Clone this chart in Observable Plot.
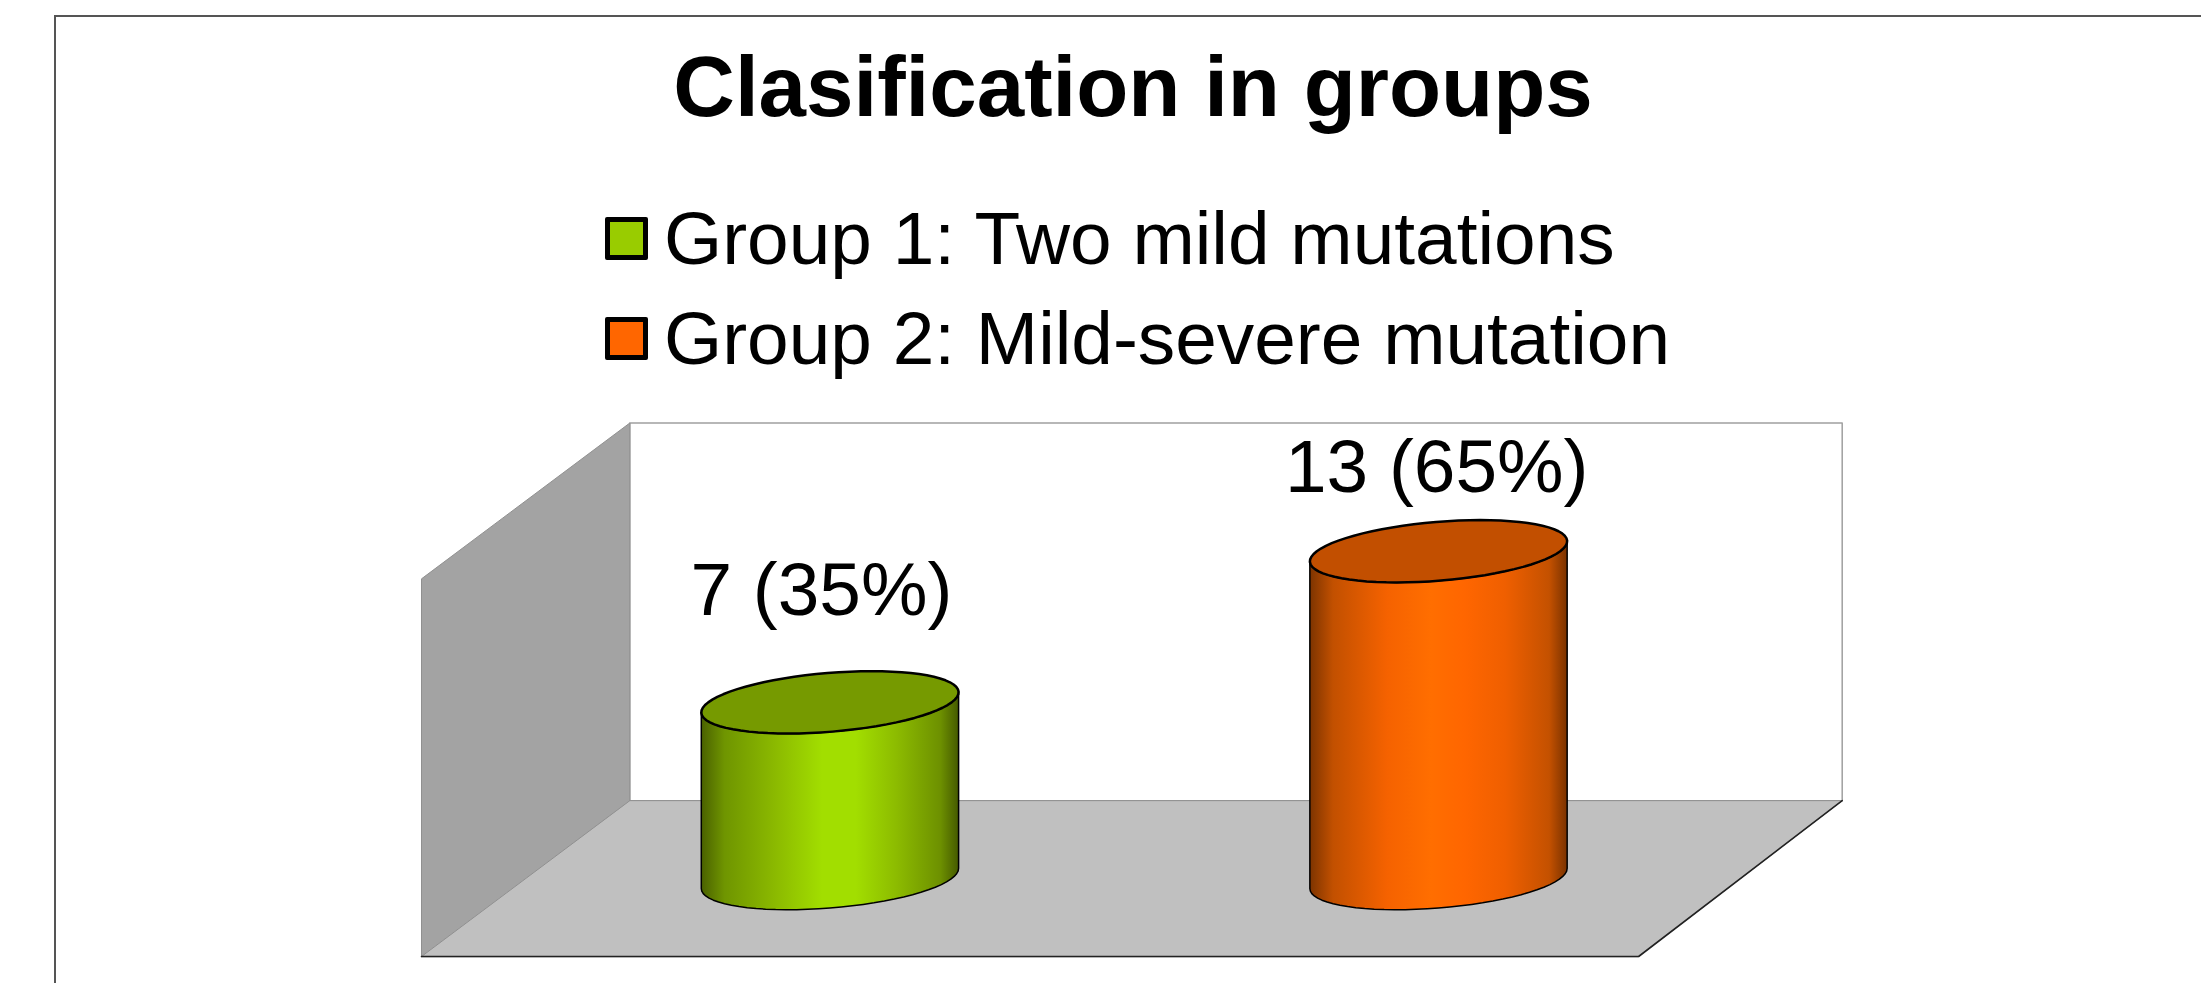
<!DOCTYPE html>
<html>
<head>
<meta charset="utf-8">
<script src="https://cdn.jsdelivr.net/npm/d3@7"></script>
<script src="https://cdn.jsdelivr.net/npm/@observablehq/plot@0.6"></script>
<style>
  html, body { margin: 0; padding: 0; background: #fff; overflow: hidden; }
  body { width: 2201px; height: 983px; position: relative; font-family: "Liberation Sans", Arial, sans-serif; color: #000; }
  #frame { position: absolute; left: 54px; top: 15px; right: -10px; bottom: -10px; border: 2px solid #555; }
  #title { position: relative; margin: 0; height: 188px; box-sizing: border-box; padding-top: 38px; text-align: center; padding-left: 65px;
           font-size: 85.3px; line-height: 98px; font-weight: bold; }
  #legend { position: relative; height: 212px; margin-left: 605px; }
  .row { display: flex; align-items: center; height: 100px; font-size: 74.8px; white-space: nowrap; }
  .swatch { width: 33px; height: 33px; border: 5px solid #000; border-radius: 2px; margin-right: 16px; flex: none; }
  #chart { position: relative; }
  #chart svg { display: block; }
</style>
</head>
<body>
<div id="frame"></div>
<h1 id="title"></h1>
<div id="legend"></div>
<div id="chart"></div>
<script>
// ---- data ----
const chartTitle = "Clasification in groups";
const groups = ["Group 1: Two mild mutations", "Group 2: Mild-severe mutation"];
const counts = [7, 13];
const percents = [35, 65];
const legendColors = ["#99cc00", "#ff6600"];
const labels = counts.map((c, i) => `${c} (${percents[i]}%)`);

// ---- 3D chart box, in data units ----
const valueMax = 15;               // height of walls
const bandCount = groups.length;   // floor width in category bands
const depthX = 0.3423, depthY = 6.19;   // oblique shift of full depth
const backNarrowing = 0.0078;           // the back edge is slightly shorter than the front edge
const radiusX = 0.2, radiusD = 0.2;     // cylinder radius
const project = (b, v, d) => ({x: b + d * depthX, y: v + d * depthY});
const closed = {curve: "linear-closed", x: "x", y: "y"};

const backEnd = bandCount - backNarrowing;
const backWall = [project(0,0,1), project(0,valueMax,1), project(backEnd,valueMax,1), project(backEnd,0,1)];
const sideWall = [project(0,0,0), project(0,valueMax,0), project(0,valueMax,1), project(0,0,1)];
const floor = [project(0,0,0), project(0,0,1), project(backEnd,0,1), project(bandCount,0,0)];
const floorFront = [project(0,0,0), project(bandCount,0,0), project(backEnd,0,1)];

const circlePoint = (band, v, t) => project(band + radiusX * Math.cos(t), v, 0.5 + radiusD * Math.sin(t));
const t0 = Math.atan2(depthX * radiusD, radiusX);   // angle of the silhouette's right edge
const angles = d3.range(0, 73).map(i => i * Math.PI / 36);
const frontAngles = d3.range(0, 37).map(i => t0 - i * Math.PI / 36);

const bodies = counts.map((v, i) => {
  const band = i + 0.5;
  return [
    ...frontAngles.map(t => circlePoint(band, 0, t)),
    ...frontAngles.slice().reverse().map(t => circlePoint(band, v, t))
  ];
});
const tops = counts.map((v, i) => angles.map(t => circlePoint(i + 0.5, v, t)));

// hand-placed label nudges, in data units
const labelShiftX = [-0.014, -0.003];
const labelShiftV = [2.23, 1.12];
const labelData = counts.map((v, i) => {
  const p = project(i + 0.5 + labelShiftX[i], v + radiusD * depthY + labelShiftV[i], 0.5);
  return {...p, label: labels[i]};
});

// ---- html title + legend ----
document.getElementById("title").textContent = chartTitle;
const legend = document.getElementById("legend");
groups.forEach((g, i) => {
  const row = document.createElement("div"); row.className = "row";
  const sw = document.createElement("span"); sw.className = "swatch"; sw.style.background = legendColors[i];
  const tx = document.createElement("span"); tx.textContent = g;
  row.append(sw, tx); legend.append(row);
});

// ---- gradients ----
const gradientStops = [
  ["#4a6100","#6f9500","#8dbc00","#a2de00","#a2de00","#8cbb00","#6d9000","#455a00"],
  ["#7d3400","#c25000","#f56200","#ff6e00","#ff6600","#ef5f00","#c45100","#7a3200"]
];
const stopOffsets = [0, 0.09, 0.3, 0.47, 0.6, 0.76, 0.93, 1];
function defs() {
  const ns = "http://www.w3.org/2000/svg";
  const d = document.createElementNS(ns, "defs");
  gradientStops.forEach((stops, i) => {
    const g = document.createElementNS(ns, "linearGradient");
    g.setAttribute("id", "body" + i);
    stops.forEach((c, k) => {
      const s = document.createElementNS(ns, "stop");
      s.setAttribute("offset", stopOffsets[k]); s.setAttribute("stop-color", c);
      g.append(s);
    });
    d.append(g);
  });
  return d;
}
const topColors = ["#769a00", "#c24f00"];

// ---- plot ----
const plot = Plot.plot({
  width: 2201, height: 583,
  marginLeft: 421, marginRight: 359.3, marginTop: 22.5, marginBottom: 27,
  x: {domain: [0, backEnd + depthX], axis: null},
  y: {domain: [0, valueMax + depthY], axis: null},
  style: {background: "transparent", overflow: "visible"},
  marks: [
    defs,
    Plot.line(backWall, {...closed, fill: "#fff", stroke: "#a0a0a0", strokeWidth: 1.5}),
    Plot.line(sideWall, {...closed, fill: "#a3a3a3", stroke: "#909090", strokeWidth: 1}),
    Plot.line(floor, {...closed, fill: "#c0c0c0", stroke: "#909090", strokeWidth: 1}),
    Plot.line(floorFront, {x: "x", y: "y", stroke: "#222", strokeWidth: 1.6}),
    ...counts.flatMap((v, i) => [
      Plot.line(bodies[i], {...closed, fill: `url(#body${i})`, stroke: "#000", strokeWidth: 1.5}),
      Plot.line(tops[i], {...closed, fill: topColors[i], stroke: "#000", strokeWidth: 2.5})
    ]),
    Plot.text(labelData, {x: "x", y: "y", text: "label", fontSize: 74.8, fill: "#000",
      fontFamily: "Liberation Sans", textAnchor: "middle", lineAnchor: "bottom"})
  ]
});
document.getElementById("chart").append(plot);
</script>
</body>
</html>
